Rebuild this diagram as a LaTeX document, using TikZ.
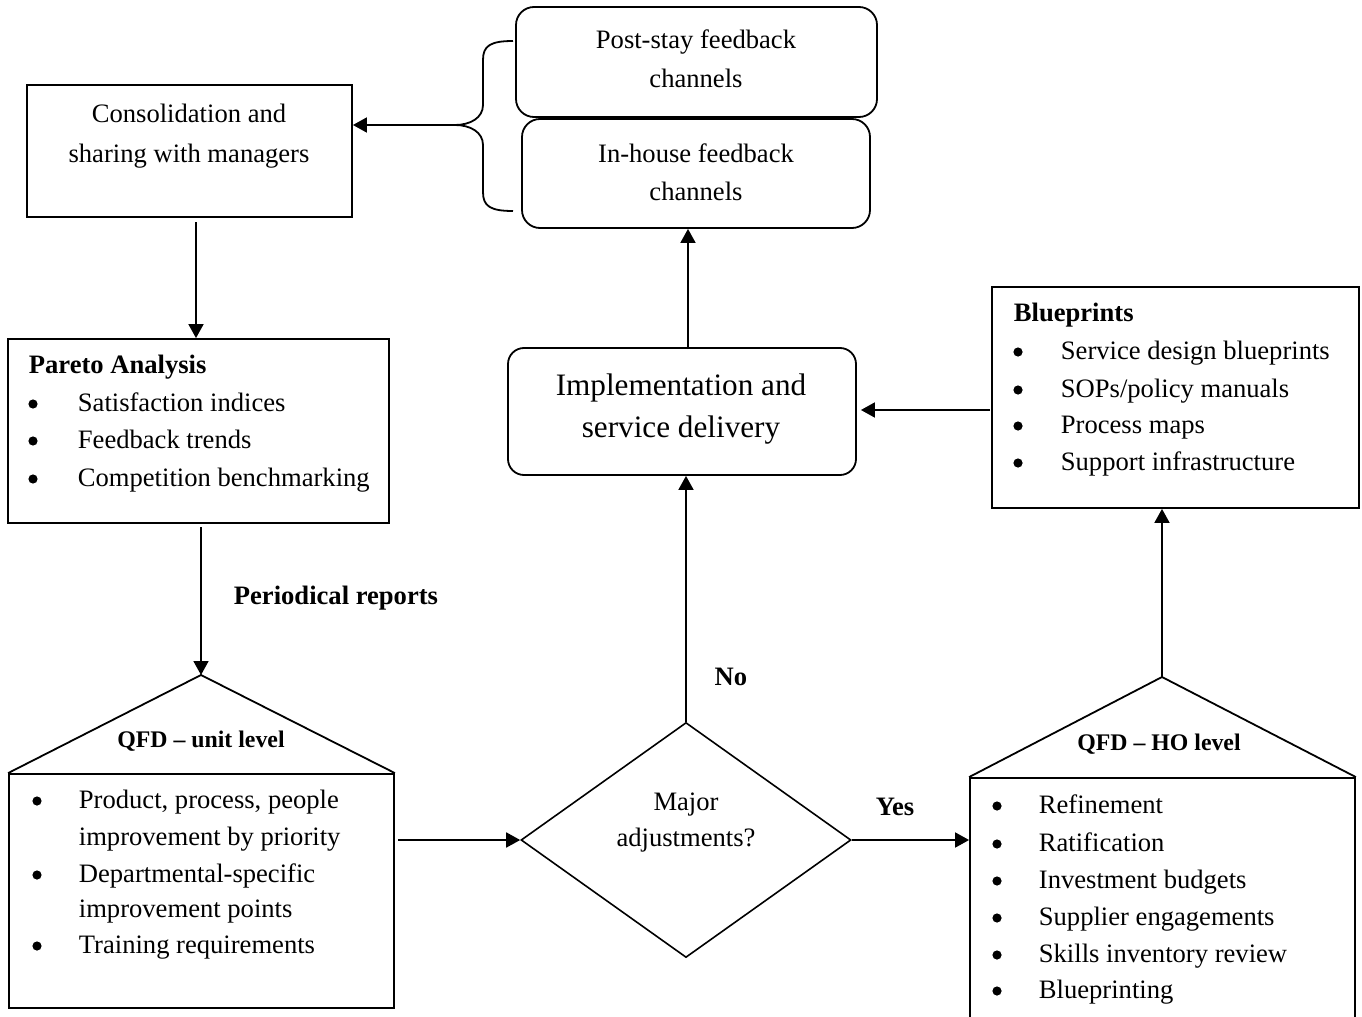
\documentclass[tikz,border=0pt]{standalone}
\usepackage{fontspec}
\setmainfont{Liberation Serif}
\usetikzlibrary{arrows.meta,shapes.geometric}
\begin{document}
\begin{tikzpicture}[x=0.5pt,y=-0.5pt, line width=0.9pt,
 box/.style={draw, rectangle, inner sep=0pt, line width=0.9pt},
 rbox/.style={box, rounded corners=9pt},
 txt/.style={inner sep=0pt, anchor=base, font=\fontsize{13.3}{16}\selectfont},
 txtl/.style={txt, anchor=base west},
 hd/.style={txtl, font=\fontsize{13.3}{16}\selectfont\bfseries},
 lbl/.style={txt, font=\fontsize{13.3}{16}\selectfont\bfseries},
 big/.style={txt, font=\fontsize{15.6}{18}\selectfont},
 qt/.style={txt, font=\fontsize{11.9}{14}\selectfont\bfseries},
 bul/.style={circle, fill, inner sep=0pt, minimum size=4.6pt},
 arr/.style={-{Triangle[length=7pt,width=7.5pt]}, line width=0.9pt}]
\useasboundingbox (0,0) rectangle (1362,1017);
\clip (0,0) rectangle (1362,1017);

% boxes
\node[box, minimum width=162.5pt, minimum height=66pt] (cons) at (189.5,151) {};
\node[rbox, minimum width=180.5pt, minimum height=55pt] (post) at (696.5,62) {};
\node[rbox, minimum width=174pt, minimum height=54.5pt] (inh) at (696,173.5) {};
\node[rbox, rounded corners=8pt, minimum width=174pt, minimum height=63.5pt] (impl) at (682,411.5) {};
\node[box, minimum width=190.5pt, minimum height=92pt] (par) at (198.5,431) {};
\node[box, minimum width=183.5pt, minimum height=110.5pt] (bp) at (1175.5,397.5) {};
\node[box, minimum width=192.5pt, minimum height=117pt] (ubox) at (201.5,891) {};
\node[box, minimum width=192.5pt, minimum height=130pt] (hbox) at (1162.5,908) {};
\node[draw, diamond, inner sep=0pt, line width=0.8pt, minimum width=165pt, minimum height=117.5pt] (dia) at (686,840) {};

% roofs
\coordinate (ua) at (201,675);
\coordinate (ha) at (1162,677);
\draw (ubox.north west) -- (ua) -- (ubox.north east);
\draw (hbox.north west) -- (ha) -- (hbox.north east);

% brace
\coordinate (bt) at (455,125);
\draw (513,41) .. controls (490,41) and (483,46) .. (483,60) -- (483,105)
  .. controls (483,118) and (470,125) .. (bt)
  .. controls (470,125) and (483,132) .. (483,145) -- (483,192)
  .. controls (483,206) and (490,211) .. (513,211);

% texts
\node[txt] (t1) at (189,122) {Consolidation and};
\node[txt] (t2) at (189,162) {sharing with managers};
\node[txt] (t3) at (696,48) {Post-stay feedback};
\node[txt] (t4) at (696,87) {channels};
\node[txt] (t5) at (696,162) {In-house feedback};
\node[txt] (t6) at (696,200) {channels};
\node[big] (t7) at (681,395) {Implementation and};
\node[big] (t8) at (681,437) {service delivery};

\node[hd] (ph) at (28,373) {Pareto Analysis};
\node[bul] (pb1) at (33,404) {}; \node[txtl] (p1) at (77,411) {Satisfaction indices};
\node[bul] (pb2) at (33,441) {}; \node[txtl] (p2) at (77,448) {Feedback trends};
\node[bul] (pb3) at (33,479) {}; \node[txtl] (p3) at (77,486) {Competition benchmarking};

\node[hd] (bh) at (1013,321) {Blueprints};
\node[bul] (bb1) at (1018,352) {}; \node[txtl] (b1) at (1060,359) {Service design blueprints};
\node[bul] (bb2) at (1018,390) {}; \node[txtl] (b2) at (1060,397) {SOPs/policy manuals};
\node[bul] (bb3) at (1018,426) {}; \node[txtl] (b3) at (1060,433) {Process maps};
\node[bul] (bb4) at (1018,463) {}; \node[txtl] (b4) at (1060,470) {Support infrastructure};

\node[qt] (uh) at (201,747) {QFD -- unit level};
\node[bul] (ub1) at (37,801) {}; \node[txtl] (u1) at (78,808) {Product, process, people};
\node[txtl] (u2) at (78,845) {improvement by priority};
\node[bul] (ub3) at (37,875) {}; \node[txtl] (u3) at (78,882) {Departmental-specific};
\node[txtl] (u4) at (78,917) {improvement points};
\node[bul] (ub5) at (37,946) {}; \node[txtl] (u5) at (78,953) {Training requirements};

\node[qt] (hh) at (1159,750) {QFD -- HO level};
\node[bul] (hb1) at (997,806) {}; \node[txtl] (h1) at (1038,813) {Refinement};
\node[bul] (hb2) at (997,844) {}; \node[txtl] (h2) at (1038,851) {Ratification};
\node[bul] (hb3) at (997,881) {}; \node[txtl] (h3) at (1038,888) {Investment budgets};
\node[bul] (hb4) at (997,918) {}; \node[txtl] (h4) at (1038,925) {Supplier engagements};
\node[bul] (hb5) at (997,955) {}; \node[txtl] (h5) at (1038,962) {Skills inventory review};
\node[bul] (hb6) at (997,991) {}; \node[txtl] (h6) at (1038,998) {Blueprinting};

\node[txt] (m1) at (686,810) {Major};
\node[txt] (m2) at (686,846) {adjustments?};
\node[lbl] (yes) at (895,815) {Yes};
\node[lbl] (no) at (731,685) {No};
\node[hd] (pr) at (233,604) {Periodical reports};

% connectors
\coordinate (c1) at (196,222);
\coordinate (c2) at (201,527);
\coordinate (c3) at (398,840);
\coordinate (c4) at (688,349);
\coordinate (c5) at (990,410);
\draw[arr] (bt) -- (bt -| cons.east);
\draw[arr] (c1) -- (c1 |- par.north);
\draw[arr] (c2) -- (ua);
\draw[arr] (c3) -- (dia.west);
\draw[arr] (dia.north) -- (dia.north |- impl.south);
\draw[arr] (c4) -- (c4 |- inh.south);
\draw[arr, shorten >=2pt] (c5) -- (c5 -| impl.east);
\draw[arr] (ha) -- (ha |- bp.south);
\draw[arr] (dia.east) -- (dia.east -| hbox.west);
\end{tikzpicture}
\end{document}
